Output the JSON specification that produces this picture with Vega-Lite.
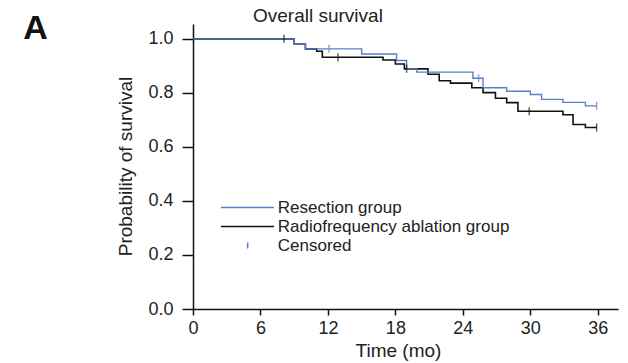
{
  "$schema": "https://vega.github.io/schema/vega-lite/v6.json",
  "width": 425,
  "height": 285,
  "autosize": {"type": "none"},
  "padding": {"left": 193, "top": 24, "right": 10, "bottom": 54},
  "background": "white",
  "config": {
    "view": {"stroke": null},
    "font": "Liberation Sans",
    "axis": {"grid": false, "domainColor": "#111", "tickColor": "#111", "domainWidth": 1.5, "tickWidth": 1.5, "labelColor": "#222", "titleColor": "#222", "labelFont": "Liberation Sans", "titleFont": "Liberation Sans", "labelFontSize": 18, "titleFontSize": 19, "titleFontWeight": "normal"}
  },
  "title": {"text": "Overall survival", "anchor": "start", "frame": "group", "dx": 60, "dy": 31, "fontSize": 19, "fontWeight": "normal", "font": "Liberation Sans", "color": "#222", "baseline": "alphabetic", "offset": 2},
  "datasets": {
    "steps": [
      {"group": "Radiofrequency ablation group", "t": 0, "s": 1.0},
      {"group": "Radiofrequency ablation group", "t": 9.0, "s": 0.981},
      {"group": "Radiofrequency ablation group", "t": 10.0, "s": 0.963},
      {"group": "Radiofrequency ablation group", "t": 11.0, "s": 0.954},
      {"group": "Radiofrequency ablation group", "t": 11.5, "s": 0.932},
      {"group": "Radiofrequency ablation group", "t": 16.9, "s": 0.922},
      {"group": "Radiofrequency ablation group", "t": 18.0, "s": 0.907},
      {"group": "Radiofrequency ablation group", "t": 18.8, "s": 0.889},
      {"group": "Radiofrequency ablation group", "t": 20.9, "s": 0.869},
      {"group": "Radiofrequency ablation group", "t": 21.9, "s": 0.845},
      {"group": "Radiofrequency ablation group", "t": 22.9, "s": 0.836},
      {"group": "Radiofrequency ablation group", "t": 24.8, "s": 0.819},
      {"group": "Radiofrequency ablation group", "t": 25.8, "s": 0.801},
      {"group": "Radiofrequency ablation group", "t": 26.9, "s": 0.780},
      {"group": "Radiofrequency ablation group", "t": 27.9, "s": 0.764},
      {"group": "Radiofrequency ablation group", "t": 28.9, "s": 0.732},
      {"group": "Radiofrequency ablation group", "t": 32.9, "s": 0.719},
      {"group": "Radiofrequency ablation group", "t": 33.8, "s": 0.683},
      {"group": "Radiofrequency ablation group", "t": 34.9, "s": 0.672},
      {"group": "Radiofrequency ablation group", "t": 35.9, "s": 0.672},
      {"group": "Resection group", "t": 0, "s": 1.0},
      {"group": "Resection group", "t": 9.0, "s": 0.981},
      {"group": "Resection group", "t": 10.0, "s": 0.963},
      {"group": "Resection group", "t": 15.0, "s": 0.944},
      {"group": "Resection group", "t": 18.1, "s": 0.920},
      {"group": "Resection group", "t": 19.0, "s": 0.889},
      {"group": "Resection group", "t": 19.9, "s": 0.877},
      {"group": "Resection group", "t": 24.9, "s": 0.854},
      {"group": "Resection group", "t": 25.8, "s": 0.819},
      {"group": "Resection group", "t": 27.9, "s": 0.806},
      {"group": "Resection group", "t": 30.0, "s": 0.794},
      {"group": "Resection group", "t": 31.0, "s": 0.776},
      {"group": "Resection group", "t": 32.9, "s": 0.765},
      {"group": "Resection group", "t": 34.9, "s": 0.752},
      {"group": "Resection group", "t": 35.9, "s": 0.752}
    ],
    "censors": [
      {"group": "Radiofrequency ablation group", "t": 8.1, "s": 1.0},
      {"group": "Radiofrequency ablation group", "t": 12.9, "s": 0.932},
      {"group": "Radiofrequency ablation group", "t": 19.0, "s": 0.889},
      {"group": "Radiofrequency ablation group", "t": 29.9, "s": 0.732},
      {"group": "Radiofrequency ablation group", "t": 35.9, "s": 0.672},
      {"group": "Resection group", "t": 12.1, "s": 0.963},
      {"group": "Resection group", "t": 25.4, "s": 0.854},
      {"group": "Resection group", "t": 35.9, "s": 0.752}
    ],
    "panel": [{"label": "A"}]
  },
  "layer": [
    {
      "data": {"name": "steps"},
      "transform": [{"filter": "datum.group === 'Radiofrequency ablation group'"}],
      "mark": {"type": "line", "interpolate": "step-after", "strokeWidth": 1.6},
      "encoding": {
        "x": {"field": "t", "type": "quantitative", "scale": {"domain": [0, 37.8], "nice": false},
          "axis": {"title": "Time (mo)", "values": [0, 6, 12, 18, 24, 30, 36], "tickSize": 6, "labelPadding": 4, "labelFlush": false, "titleX": 205, "titleY": 47, "titleBaseline": "alphabetic", "titleAnchor": null, "titleAlign": "center"}},
        "y": {"field": "s", "type": "quantitative", "scale": {"domain": [0, 1.055], "nice": false, "zero": true},
          "axis": {"title": "Probability of survival", "values": [0, 0.2, 0.4, 0.6, 0.8, 1.0], "format": ".1f", "tickSize": 11, "labelPadding": 9, "labelFlush": false, "titleX": -62, "titleY": 142, "titleAngle": -90, "titleBaseline": "alphabetic", "titleAlign": "center", "titleAnchor": null}},
        "color": {"field": "group", "type": "nominal",
          "scale": {"domain": ["Resection group", "Radiofrequency ablation group", "Censored"], "range": ["#5b7ec6", "#111111", "#5b7ec6"]},
          "legend": {"title": null, "orient": "none", "legendX": 19.5, "legendY": 175, "padding": 0,
            "symbolType": "M0,0L10.6,0", "symbolSize": 100, "symbolStrokeWidth": 1.5, "symbolFillColor": "transparent",
            "labelFontSize": 17, "labelFont": "Liberation Sans", "labelColor": "#222", "labelOffset": 48.3, "rowPadding": 1, "labelLimit": 400,
            "encode": {"symbols": {"update": {"shape": {"signal": "datum.label === 'Censored' ? 'M5.33,-0.6L5.33,0.6' : 'M0,0L10.6,0'"}}}}}}
      }
    },
    {
      "data": {"name": "steps"},
      "transform": [{"filter": "datum.group === 'Resection group'"}],
      "mark": {"type": "line", "interpolate": "step-after", "strokeWidth": 1.4},
      "encoding": {
        "x": {"field": "t", "type": "quantitative", "scale": {"domain": [0, 37.8], "nice": false}},
        "y": {"field": "s", "type": "quantitative", "scale": {"domain": [0, 1.055], "nice": false}},
        "color": {"field": "group", "type": "nominal"}
      }
    },
    {
      "data": {"name": "censors"},
      "transform": [{"filter": "datum.group === 'Radiofrequency ablation group'"}],
      "mark": {"type": "tick", "orient": "vertical", "size": 8, "thickness": 1.4, "color": "#111111"},
      "encoding": {
        "x": {"field": "t", "type": "quantitative", "scale": {"domain": [0, 37.8], "nice": false}},
        "y": {"field": "s", "type": "quantitative", "scale": {"domain": [0, 1.055], "nice": false}}
      }
    },
    {
      "data": {"name": "censors"},
      "transform": [{"filter": "datum.group === 'Resection group'"}],
      "mark": {"type": "tick", "orient": "vertical", "size": 8, "thickness": 1.4, "color": "#5b7ec6"},
      "encoding": {
        "x": {"field": "t", "type": "quantitative", "scale": {"domain": [0, 37.8], "nice": false}},
        "y": {"field": "s", "type": "quantitative", "scale": {"domain": [0, 1.055], "nice": false}}
      }
    },
    {
      "data": {"name": "panel"},
      "mark": {"type": "text", "align": "left", "baseline": "alphabetic", "fontSize": 34, "fontWeight": "bold", "font": "Liberation Sans", "color": "#111", "clip": false},
      "encoding": {
        "x": {"datum": -15.1, "type": "quantitative", "scale": {"domain": [0, 37.8], "nice": false}},
        "y": {"datum": 1.0, "type": "quantitative", "scale": {"domain": [0, 1.055], "nice": false}},
        "text": {"field": "label"}
      }
    }
  ]
}
